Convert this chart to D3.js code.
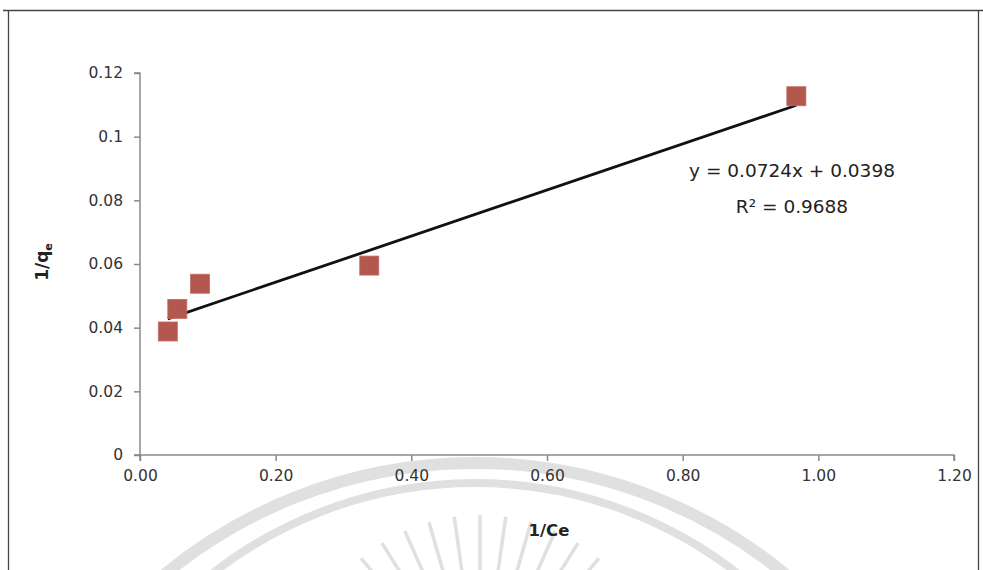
<!DOCTYPE html>
<html><head><meta charset="utf-8">
<script src="https://cdn.jsdelivr.net/npm/d3@7"></script>
<style>body{margin:0;background:#fff;}svg{display:block;}</style>
</head><body>
<script>
const xValues = [0.041, 0.055, 0.0885, 0.338, 0.9676];
const yValues = [0.0388, 0.0459, 0.0538, 0.0595, 0.1127];
const xTicks = [0, 0.2, 0.4, 0.6, 0.8, 1.0, 1.2];
const yTicks = [0, 0.02, 0.04, 0.06, 0.08, 0.1, 0.12];
const yTickLabels = ["0", "0.02", "0.04", "0.06", "0.08", "0.1", "0.12"];
const slope = 0.0724, intercept = 0.0398, r2 = 0.9688;

const W = 983, H = 570;
const svg = d3.select("body").append("svg").attr("width", W).attr("height", H);

// watermark (scan artifact)
const wm = svg.append("g").attr("fill","none").attr("stroke","#e0e0e0");
wm.append("circle").attr("cx",475).attr("cy",951).attr("r",488).attr("stroke-width",12);
wm.append("circle").attr("cx",475).attr("cy",909).attr("r",426).attr("stroke-width",8);
d3.range(-48, 49, 8).forEach(a=>{
  const t = (a-90)*Math.PI/180;
  wm.append("line")
    .attr("x1",480+Math.cos(t)*185).attr("y1",700+Math.sin(t)*185)
    .attr("x2",480+Math.cos(t)*120).attr("y2",700+Math.sin(t)*120)
    .attr("stroke-width",3.5);
});

// outer frame
svg.append("path").attr("d","M3,10.5 H983 M8.5,10 V570 M978.5,10 V570")
  .attr("stroke","#444").attr("stroke-width",1.3).attr("fill","none");

const x = d3.scaleLinear().domain([0,1.2]).range([140,954]);
const y = d3.scaleLinear().domain([0,0.12]).range([455,73]);

const font = "'DejaVu Sans', Verdana, sans-serif";

const gx = svg.append("g").attr("transform","translate(0,455)")
  .call(d3.axisBottom(x).tickValues(xTicks).tickFormat(d3.format(".2f")).tickSize(6).tickPadding(9));
const gy = svg.append("g").attr("transform","translate(140,0)")
  .call(d3.axisLeft(y).tickValues(yTicks).tickFormat((d,i)=>yTickLabels[i]).tickSize(6).tickPadding(11));
[gx,gy].forEach(g=>{
  g.select(".domain").attr("stroke","#8a8a8a").attr("stroke-width",1.5);
  g.selectAll(".tick line").attr("stroke","#8a8a8a").attr("stroke-width",1.5);
  g.selectAll("text").attr("font-family",font).attr("font-size",15.5).attr("fill","#333");
});
gx.select(".domain").attr("d","M140,6V0H954V6");
gy.select(".domain").attr("d","M-6,73H0V455H-6");

// trendline
const xmin = d3.min(xValues), xmax = d3.max(xValues);
svg.append("line")
  .attr("x1",x(xmin)).attr("y1",y(slope*xmin+intercept))
  .attr("x2",x(xmax)).attr("y2",y(slope*xmax+intercept))
  .attr("stroke","#111").attr("stroke-width",2.8);

// markers
svg.selectAll("rect.pt").data(xValues.map((v,i)=>[v,yValues[i]])).enter()
  .append("rect").attr("class","pt")
  .attr("x",d=>x(d[0])-9.5).attr("y",d=>y(d[1])-9.5)
  .attr("width",19).attr("height",19)
  .attr("fill","#b4574f").attr("stroke","#c06a62").attr("stroke-width",0.8);

// equation
svg.append("text").attr("x",792).attr("y",177).attr("text-anchor","middle")
  .attr("font-family",font).attr("font-size",18.5).attr("fill","#222")
  .text(`y = ${slope}x + ${intercept}`);
svg.append("text").attr("x",792).attr("y",213).attr("text-anchor","middle")
  .attr("font-family",font).attr("font-size",18.5).attr("fill","#222")
  .text(`R² = ${r2}`);

// axis titles
svg.append("text").attr("x",549).attr("y",536).attr("text-anchor","middle")
  .attr("font-family",font).attr("font-size",16.5).attr("font-weight","bold").attr("fill","#222")
  .text("1/Ce");
const yl = svg.append("text").attr("transform","translate(48,262) rotate(-90)").attr("text-anchor","middle")
  .attr("font-family",font).attr("font-size",17).attr("font-weight","bold").attr("fill","#222");
yl.append("tspan").text("1/q");
yl.append("tspan").attr("font-size",11).attr("dy",4).text("e");
</script>
</body></html>
